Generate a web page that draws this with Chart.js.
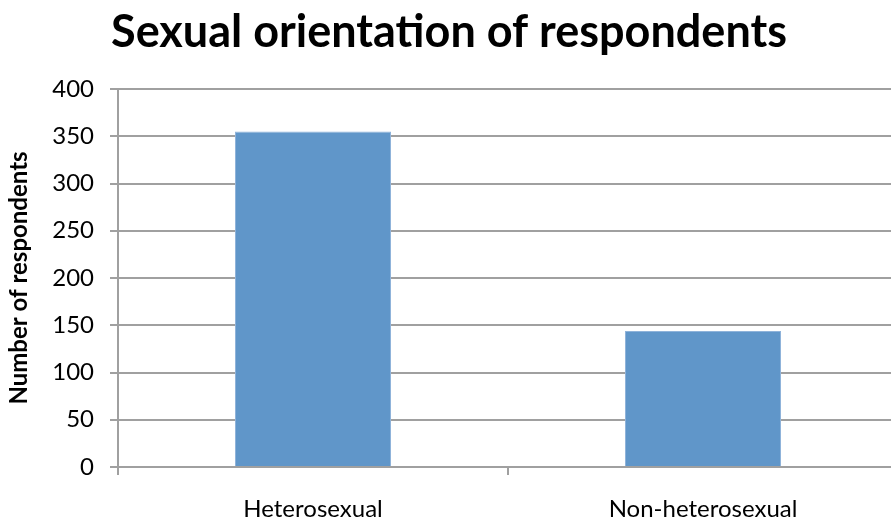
<!DOCTYPE html>
<html>
<head>
<meta charset="utf-8">
<title>Sexual orientation of respondents</title>
<script src="https://cdn.jsdelivr.net/npm/chart.js@4/dist/chart.umd.min.js"></script>
<style>
  html, body { margin: 0; padding: 0; background: #fff; overflow: hidden; }
  #wrap { width: 898px; height: 523px; }
</style>
</head>
<body>
<div id="wrap"><canvas id="chart" width="898" height="523"></canvas></div>
<script>
var categories = ["Heterosexual", "Non-heterosexual"];
var respondents = [355, 144];
var yTicks = [0, 50, 100, 150, 200, 250, 300, 350, 400];

var gridColor = "#a0a0a0";
var font = "Lato, 'Open Sans', sans-serif";

var ctx = document.getElementById("chart").getContext("2d");
var myChart = new Chart(ctx, {
    type: "bar",
    data: {
        labels: categories,
        datasets: [{
            label: "Respondents",
            data: respondents,
            backgroundColor: "#6096c9",
            borderColor: "#8fb3da",
            borderWidth: 1,
            barPercentage: 0.4,
            categoryPercentage: 1.0
        }]
    },
    options: {
        responsive: false,
        animation: false,
        layout: { padding: { left: 0, right: 0, top: 0, bottom: 0 } },
        plugins: {
            legend: { display: false },
            tooltip: { enabled: false },
            title: {
                display: true,
                text: "Sexual orientation of respondents",
                color: "#000",
                font: { family: font, size: 45, weight: "bold" },
                padding: { top: 5, bottom: 30 }
            }
        },
        scales: {
            x: {
                offset: true,
                grid: {
                    offset: true,
                    drawOnChartArea: false,
                    drawTicks: true,
                    tickLength: 8,
                    color: gridColor,
                    lineWidth: 2
                },
                border: { color: gridColor, width: 2 },
                ticks: {
                    color: "#000",
                    padding: 20,
                    font: { family: font, size: 24 }
                },
                afterFit: function(scale) { scale.height = 56; }
            },
            y: {
                min: 0,
                max: 400,
                afterBuildTicks: function(scale) {
                    scale.ticks = yTicks.map(function(v) { return { value: v }; });
                },
                grid: {
                    color: gridColor,
                    lineWidth: 2,
                    tickLength: 8
                },
                border: { color: gridColor, width: 2 },
                ticks: {
                    color: "#000",
                    padding: 16,
                    font: { family: font, size: 24 }
                },
                title: {
                    display: true,
                    text: "Number of respondents",
                    color: "#000",
                    font: { family: font, size: 24, weight: "bold" },
                    padding: { top: 5, bottom: 0 }
                },
                afterFit: function(scale) { scale.width = 118; }
            }
        }
    }
});
</script>
</body>
</html>
